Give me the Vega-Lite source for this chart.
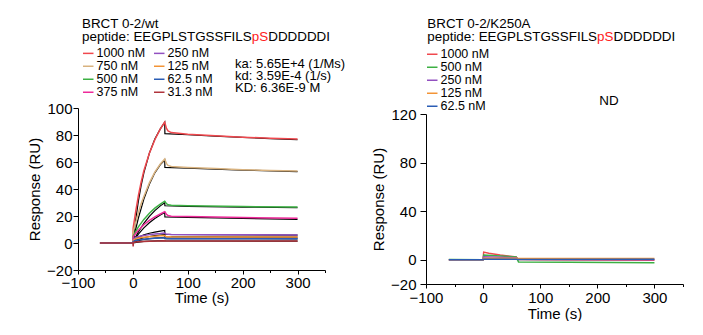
{
  "$schema": "https://vega.github.io/schema/vega-lite/v6.json",
  "padding": {"left": 27, "top": 16, "right": 0, "bottom": 0},
  "background": "white",
  "spacing": 25,
  "config": {
    "font": "Liberation Sans",
    "view": {"stroke": null},
    "axis": {"domainColor": "#000", "tickColor": "#000", "labelColor": "#000", "titleColor": "#000", "labelFontSize": 15, "titleFontSize": 15, "titleFontWeight": "normal", "grid": false, "labelFont": "Liberation Sans", "titleFont": "Liberation Sans", "domainWidth": 1, "tickWidth": 1, "labelOverlap": false},
    "legend": {"labelFontSize": 12.5, "labelColor": "#000", "labelFont": "Liberation Sans", "symbolType": "stroke", "symbolSize": 110, "symbolStrokeWidth": 1.5, "labelOffset": 2, "padding": 0, "columnPadding": 5},
    "text": {"font": "Liberation Sans", "fontSize": 13.4}
  },
  "resolve": {"scale": {"color": "independent"}, "legend": {"color": "independent"}},
  "hconcat": [
    {
      "width": 247,
      "height": 156,
      "data": {"values": [
        {"c":"1000 nM","k":"d","t":-60,"r":0},{"c":"1000 nM","k":"d","t":0,"r":0},{"c":"1000 nM","k":"d","t":0.5,"r":11},{"c":"1000 nM","k":"d","t":5,"r":23},{"c":"1000 nM","k":"d","t":10,"r":35},{"c":"1000 nM","k":"d","t":15,"r":45},{"c":"1000 nM","k":"d","t":20,"r":53.5},{"c":"1000 nM","k":"d","t":30,"r":66.5},{"c":"1000 nM","k":"d","t":40,"r":76.5},{"c":"1000 nM","k":"d","t":50,"r":84.5},{"c":"1000 nM","k":"d","t":58,"r":89.5},{"c":"1000 nM","k":"d","t":59,"r":88},{"c":"1000 nM","k":"d","t":61,"r":85},{"c":"1000 nM","k":"d","t":64,"r":83},{"c":"1000 nM","k":"d","t":70,"r":81.8},{"c":"1000 nM","k":"d","t":100,"r":80.6},{"c":"1000 nM","k":"d","t":150,"r":79.4},{"c":"1000 nM","k":"d","t":200,"r":78.4},{"c":"1000 nM","k":"d","t":250,"r":77.6},{"c":"1000 nM","k":"d","t":300,"r":77},
        {"c":"1000 nM","k":"f","t":0,"r":0},{"c":"1000 nM","k":"f","t":5,"r":17},{"c":"1000 nM","k":"f","t":10,"r":31},{"c":"1000 nM","k":"f","t":15,"r":42.5},{"c":"1000 nM","k":"f","t":20,"r":52},{"c":"1000 nM","k":"f","t":30,"r":66.5},{"c":"1000 nM","k":"f","t":40,"r":77},{"c":"1000 nM","k":"f","t":50,"r":84.5},{"c":"1000 nM","k":"f","t":58,"r":89.5},{"c":"1000 nM","k":"f","t":58.3,"r":81},{"c":"1000 nM","k":"f","t":100,"r":80.2},{"c":"1000 nM","k":"f","t":150,"r":79.2},{"c":"1000 nM","k":"f","t":200,"r":78.2},{"c":"1000 nM","k":"f","t":250,"r":77.3},{"c":"1000 nM","k":"f","t":300,"r":76.5},
        {"c":"750 nM","k":"d","t":-60,"r":0},{"c":"750 nM","k":"d","t":0,"r":0},{"c":"750 nM","k":"d","t":0.5,"r":8},{"c":"750 nM","k":"d","t":5,"r":15},{"c":"750 nM","k":"d","t":10,"r":22.5},{"c":"750 nM","k":"d","t":15,"r":29},{"c":"750 nM","k":"d","t":20,"r":34.5},{"c":"750 nM","k":"d","t":30,"r":44.5},{"c":"750 nM","k":"d","t":40,"r":52.5},{"c":"750 nM","k":"d","t":50,"r":58.5},{"c":"750 nM","k":"d","t":58,"r":62.2},{"c":"750 nM","k":"d","t":59,"r":61},{"c":"750 nM","k":"d","t":61,"r":59},{"c":"750 nM","k":"d","t":64,"r":57.5},{"c":"750 nM","k":"d","t":70,"r":56.7},{"c":"750 nM","k":"d","t":100,"r":56},{"c":"750 nM","k":"d","t":150,"r":55.1},{"c":"750 nM","k":"d","t":200,"r":54.3},{"c":"750 nM","k":"d","t":250,"r":53.7},{"c":"750 nM","k":"d","t":300,"r":53.3},
        {"c":"750 nM","k":"f","t":0,"r":0},{"c":"750 nM","k":"f","t":5,"r":10},{"c":"750 nM","k":"f","t":10,"r":18.5},{"c":"750 nM","k":"f","t":20,"r":32.5},{"c":"750 nM","k":"f","t":30,"r":43.5},{"c":"750 nM","k":"f","t":40,"r":52},{"c":"750 nM","k":"f","t":50,"r":58},{"c":"750 nM","k":"f","t":58,"r":61.5},{"c":"750 nM","k":"f","t":58.3,"r":56},{"c":"750 nM","k":"f","t":100,"r":55.4},{"c":"750 nM","k":"f","t":200,"r":54},{"c":"750 nM","k":"f","t":300,"r":52.8},
        {"c":"500 nM","k":"d","t":-60,"r":0},{"c":"500 nM","k":"d","t":0,"r":0},{"c":"500 nM","k":"d","t":0.5,"r":5},{"c":"500 nM","k":"d","t":5,"r":8.5},{"c":"500 nM","k":"d","t":10,"r":12},{"c":"500 nM","k":"d","t":20,"r":17.5},{"c":"500 nM","k":"d","t":30,"r":22},{"c":"500 nM","k":"d","t":40,"r":25.8},{"c":"500 nM","k":"d","t":50,"r":28.8},{"c":"500 nM","k":"d","t":58,"r":31},{"c":"500 nM","k":"d","t":59,"r":30.5},{"c":"500 nM","k":"d","t":61,"r":29.2},{"c":"500 nM","k":"d","t":64,"r":28.3},{"c":"500 nM","k":"d","t":70,"r":27.9},{"c":"500 nM","k":"d","t":100,"r":27.6},{"c":"500 nM","k":"d","t":200,"r":27},{"c":"500 nM","k":"d","t":300,"r":26.7},
        {"c":"500 nM","k":"f","t":0,"r":0},{"c":"500 nM","k":"f","t":5,"r":4.5},{"c":"500 nM","k":"f","t":10,"r":8.2},{"c":"500 nM","k":"f","t":20,"r":14.5},{"c":"500 nM","k":"f","t":30,"r":19.7},{"c":"500 nM","k":"f","t":40,"r":24},{"c":"500 nM","k":"f","t":50,"r":27.5},{"c":"500 nM","k":"f","t":58,"r":29.8},{"c":"500 nM","k":"f","t":58.3,"r":27.6},{"c":"500 nM","k":"f","t":100,"r":27.2},{"c":"500 nM","k":"f","t":200,"r":26.6},{"c":"500 nM","k":"f","t":300,"r":26.1},
        {"c":"375 nM","k":"d","t":-60,"r":0},{"c":"375 nM","k":"d","t":0,"r":0},{"c":"375 nM","k":"d","t":0.5,"r":4.5},{"c":"375 nM","k":"d","t":5,"r":7},{"c":"375 nM","k":"d","t":10,"r":9.5},{"c":"375 nM","k":"d","t":20,"r":13.5},{"c":"375 nM","k":"d","t":30,"r":16.8},{"c":"375 nM","k":"d","t":40,"r":19.4},{"c":"375 nM","k":"d","t":50,"r":21.5},{"c":"375 nM","k":"d","t":58,"r":23.2},{"c":"375 nM","k":"d","t":59,"r":22.7},{"c":"375 nM","k":"d","t":61,"r":21.3},{"c":"375 nM","k":"d","t":64,"r":20.4},{"c":"375 nM","k":"d","t":70,"r":19.9},{"c":"375 nM","k":"d","t":100,"r":19.6},{"c":"375 nM","k":"d","t":200,"r":18.9},{"c":"375 nM","k":"d","t":300,"r":18.3},
        {"c":"375 nM","k":"f","t":0,"r":0},{"c":"375 nM","k":"f","t":5,"r":3.5},{"c":"375 nM","k":"f","t":10,"r":6.5},{"c":"375 nM","k":"f","t":20,"r":11.2},{"c":"375 nM","k":"f","t":30,"r":15},{"c":"375 nM","k":"f","t":40,"r":18.2},{"c":"375 nM","k":"f","t":50,"r":20.8},{"c":"375 nM","k":"f","t":58,"r":22.6},{"c":"375 nM","k":"f","t":58.3,"r":19.3},{"c":"375 nM","k":"f","t":100,"r":19},{"c":"375 nM","k":"f","t":200,"r":18.2},{"c":"375 nM","k":"f","t":300,"r":17.5},
        {"c":"250 nM","k":"d","t":-60,"r":0},{"c":"250 nM","k":"d","t":0,"r":0},{"c":"250 nM","k":"d","t":0.5,"r":2.5},{"c":"250 nM","k":"d","t":5,"r":4},{"c":"250 nM","k":"d","t":10,"r":4.8},{"c":"250 nM","k":"d","t":20,"r":5.6},{"c":"250 nM","k":"d","t":30,"r":6.2},{"c":"250 nM","k":"d","t":40,"r":6.7},{"c":"250 nM","k":"d","t":50,"r":7},{"c":"250 nM","k":"d","t":58,"r":7.4},{"c":"250 nM","k":"d","t":60,"r":6.6},{"c":"250 nM","k":"d","t":70,"r":6.3},{"c":"250 nM","k":"d","t":150,"r":6.1},{"c":"250 nM","k":"d","t":300,"r":6},
        {"c":"250 nM","k":"f","t":0,"r":0},{"c":"250 nM","k":"f","t":5,"r":2.6},{"c":"250 nM","k":"f","t":10,"r":4.2},{"c":"250 nM","k":"f","t":20,"r":6},{"c":"250 nM","k":"f","t":30,"r":7.2},{"c":"250 nM","k":"f","t":40,"r":8.1},{"c":"250 nM","k":"f","t":50,"r":8.8},{"c":"250 nM","k":"f","t":58,"r":9.3},{"c":"250 nM","k":"f","t":58.3,"r":6.4},{"c":"250 nM","k":"f","t":150,"r":6.1},{"c":"250 nM","k":"f","t":300,"r":5.8},
        {"c":"125 nM","k":"d","t":-60,"r":0},{"c":"125 nM","k":"d","t":0,"r":0},{"c":"125 nM","k":"d","t":0.5,"r":2},{"c":"125 nM","k":"d","t":5,"r":3},{"c":"125 nM","k":"d","t":10,"r":3.7},{"c":"125 nM","k":"d","t":20,"r":4.3},{"c":"125 nM","k":"d","t":30,"r":4.7},{"c":"125 nM","k":"d","t":40,"r":5},{"c":"125 nM","k":"d","t":50,"r":5.3},{"c":"125 nM","k":"d","t":58,"r":5.6},{"c":"125 nM","k":"d","t":60,"r":4.8},{"c":"125 nM","k":"d","t":70,"r":4.6},{"c":"125 nM","k":"d","t":150,"r":4.5},{"c":"125 nM","k":"d","t":300,"r":4.4},
        {"c":"125 nM","k":"f","t":0,"r":0},{"c":"125 nM","k":"f","t":5,"r":1.6},{"c":"125 nM","k":"f","t":10,"r":2.7},{"c":"125 nM","k":"f","t":20,"r":3.9},{"c":"125 nM","k":"f","t":30,"r":4.8},{"c":"125 nM","k":"f","t":40,"r":5.4},{"c":"125 nM","k":"f","t":50,"r":5.9},{"c":"125 nM","k":"f","t":58,"r":6.2},{"c":"125 nM","k":"f","t":58.3,"r":4.6},{"c":"125 nM","k":"f","t":150,"r":4.5},{"c":"125 nM","k":"f","t":300,"r":4.3},
        {"c":"62.5 nM","k":"d","t":-60,"r":0},{"c":"62.5 nM","k":"d","t":0,"r":0},{"c":"62.5 nM","k":"d","t":0.5,"r":1},{"c":"62.5 nM","k":"d","t":5,"r":1.8},{"c":"62.5 nM","k":"d","t":10,"r":2.3},{"c":"62.5 nM","k":"d","t":20,"r":2.8},{"c":"62.5 nM","k":"d","t":30,"r":3.2},{"c":"62.5 nM","k":"d","t":40,"r":3.5},{"c":"62.5 nM","k":"d","t":50,"r":3.7},{"c":"62.5 nM","k":"d","t":58,"r":3.9},{"c":"62.5 nM","k":"d","t":60,"r":3.4},{"c":"62.5 nM","k":"d","t":70,"r":3.2},{"c":"62.5 nM","k":"d","t":300,"r":3.1},
        {"c":"62.5 nM","k":"f","t":0,"r":0},{"c":"62.5 nM","k":"f","t":10,"r":1.7},{"c":"62.5 nM","k":"f","t":20,"r":2.6},{"c":"62.5 nM","k":"f","t":30,"r":3.2},{"c":"62.5 nM","k":"f","t":40,"r":3.6},{"c":"62.5 nM","k":"f","t":50,"r":3.9},{"c":"62.5 nM","k":"f","t":58,"r":4.1},{"c":"62.5 nM","k":"f","t":58.3,"r":3.3},{"c":"62.5 nM","k":"f","t":300,"r":3.1},
        {"c":"31.3 nM","k":"d","t":-60,"r":0},{"c":"31.3 nM","k":"d","t":0,"r":0},{"c":"31.3 nM","k":"d","t":0.5,"r":-2.5},{"c":"31.3 nM","k":"d","t":1,"r":0.5},{"c":"31.3 nM","k":"d","t":10,"r":1},{"c":"31.3 nM","k":"d","t":30,"r":1.3},{"c":"31.3 nM","k":"d","t":58,"r":1.6},{"c":"31.3 nM","k":"d","t":60,"r":1.5},{"c":"31.3 nM","k":"d","t":300,"r":1.4},
        {"c":"31.3 nM","k":"f","t":0,"r":0},{"c":"31.3 nM","k":"f","t":20,"r":1.2},{"c":"31.3 nM","k":"f","t":58,"r":1.8},{"c":"31.3 nM","k":"f","t":58.3,"r":1.5},{"c":"31.3 nM","k":"f","t":300,"r":1.4}
      ]},
      "layer": [
        {"transform": [{"filter": "datum.k === 'f'"}], "mark": {"type": "line", "color": "black", "strokeWidth": 1.2},
         "encoding": {
           "x": {"field": "t", "type": "quantitative", "scale": {"domain": [-100, 350], "nice": false, "zero": false},
             "axis": {"title": "Time (s)", "values": [-100, -50, 0, 50, 100, 150, 200, 250, 300, 350], "labelExpr": "datum.value % 100 === 0 ? datum.label : ''", "tickSize": {"condition": {"test": "datum.value % 100 === 0", "value": 4}, "value": 2.5}, "labelPadding": 1, "titlePadding": 0, "labelFlush": false, "labelOverlap": false}},
           "y": {"field": "r", "type": "quantitative", "scale": {"domain": [-20, 100], "range": [156, -6], "nice": false, "zero": false},
             "axis": {"title": "Response (RU)", "values": [-20, 0, 20, 40, 60, 80, 100], "tickSize": 5, "labelPadding": 1, "titlePadding": 4, "labelFlush": false, "labelOverlap": false, "labelBound": false}},
           "detail": {"field": "c"}}},
        {"transform": [{"filter": "datum.k === 'd'"}], "mark": {"type": "line", "strokeWidth": 1.5},
         "encoding": {
           "x": {"field": "t", "type": "quantitative",
             "axis": {"title": "Time (s)", "values": [-100, -50, 0, 50, 100, 150, 200, 250, 300, 350], "labelExpr": "datum.value % 100 === 0 ? datum.label : ''", "tickSize": {"condition": {"test": "datum.value % 100 === 0", "value": 4}, "value": 2.5}, "labelPadding": 1, "titlePadding": 0, "labelFlush": false, "labelOverlap": false}},
           "y": {"field": "r", "type": "quantitative",
             "axis": {"title": "Response (RU)", "values": [-20, 0, 20, 40, 60, 80, 100], "tickSize": 5, "labelPadding": 1, "titlePadding": 4, "labelFlush": false, "labelOverlap": false, "labelBound": false}},
           "color": {"field": "c", "type": "nominal",
             "scale": {"domain": ["1000 nM", "750 nM", "500 nM", "375 nM", "250 nM", "125 nM", "62.5 nM", "31.3 nM"],
                       "range": ["#F0484E", "#D8B27F", "#3CB043", "#EE2A9A", "#9250C0", "#F39436", "#2A5DB5", "#B0343C"]},
             "legend": {"title": null, "orient": "none", "legendX": 4, "legendY": -67, "columns": 2, "rowPadding": -0.7, "symbolType": "stroke"}}}},
        {"data": {"values": [{"txt": "BRCT 0-2/wt\npeptide: EEGPLSTGSSFILS", "p": "pS", "d": "DDDDDDI", "k": "ka: 5.65E+4 (1/Ms)\nkd: 3.59E-4 (1/s)\nKD: 6.36E-9 M"}]},
         "encoding": {
           "x": {"datum": -92.7, "type": "quantitative",
             "axis": {"title": "Time (s)", "values": [-100, -50, 0, 50, 100, 150, 200, 250, 300, 350], "labelExpr": "datum.value % 100 === 0 ? datum.label : ''", "tickSize": {"condition": {"test": "datum.value % 100 === 0", "value": 4}, "value": 2.5}, "labelPadding": 1, "titlePadding": 0, "labelFlush": false, "labelOverlap": false}},
           "y": {"datum": 159.3, "type": "quantitative",
             "axis": {"title": "Response (RU)", "values": [-20, 0, 20, 40, 60, 80, 100], "tickSize": 5, "labelPadding": 1, "titlePadding": 4, "labelFlush": false, "labelOverlap": false, "labelBound": false}}},
         "layer": [
           {"mark": {"type": "text", "align": "left", "baseline": "alphabetic", "color": "black", "lineBreak": "\n", "lineHeight": 13.4},
            "encoding": {"text": {"field": "txt"}}},
           {"mark": {"type": "text", "align": "left", "baseline": "alphabetic", "color": "#FF2020"},
            "encoding": {"x": {"datum": 216.7, "type": "quantitative"}, "y": {"datum": 149.4, "type": "quantitative"}, "text": {"field": "p"}}},
           {"mark": {"type": "text", "align": "left", "baseline": "alphabetic", "color": "black"},
            "encoding": {"x": {"datum": 246.6, "type": "quantitative"}, "y": {"datum": 149.4, "type": "quantitative"}, "text": {"field": "d"}}},
           {"mark": {"type": "text", "align": "left", "baseline": "alphabetic", "color": "black", "fontSize": 13, "lineBreak": "\n", "lineHeight": 12},
            "encoding": {"x": {"datum": 186, "type": "quantitative"}, "y": {"datum": 129.4, "type": "quantitative"}, "text": {"field": "k"}}}
         ]}
      ]
    },
    {
      "width": 257,
      "height": 170,
      "data": {"values": [
        {"c":"1000 nM","t":-60,"r":0},{"c":"1000 nM","t":0,"r":0},{"c":"1000 nM","t":1,"r":6.3},{"c":"1000 nM","t":10,"r":5.3},{"c":"1000 nM","t":30,"r":3.8},{"c":"1000 nM","t":58,"r":2.2},{"c":"1000 nM","t":61,"r":0.2},{"c":"1000 nM","t":100,"r":0},{"c":"1000 nM","t":300,"r":-0.4},
        {"c":"500 nM","t":-60,"r":0.2},{"c":"500 nM","t":0,"r":0},{"c":"500 nM","t":1,"r":3.8},{"c":"500 nM","t":30,"r":3},{"c":"500 nM","t":58,"r":2.3},{"c":"500 nM","t":62,"r":-1.8},{"c":"500 nM","t":150,"r":-2},{"c":"500 nM","t":300,"r":-2.6},
        {"c":"250 nM","t":-60,"r":0},{"c":"250 nM","t":0,"r":0},{"c":"250 nM","t":1,"r":2.5},{"c":"250 nM","t":58,"r":1.6},{"c":"250 nM","t":62,"r":0.3},{"c":"250 nM","t":300,"r":0},
        {"c":"125 nM","t":-60,"r":0},{"c":"125 nM","t":0,"r":0},{"c":"125 nM","t":1,"r":1.2},{"c":"125 nM","t":58,"r":1.2},{"c":"125 nM","t":62,"r":1},{"c":"125 nM","t":300,"r":1},
        {"c":"62.5 nM","t":-60,"r":0},{"c":"62.5 nM","t":0,"r":0},{"c":"62.5 nM","t":1,"r":0.3},{"c":"62.5 nM","t":58,"r":0.3},{"c":"62.5 nM","t":62,"r":0.1},{"c":"62.5 nM","t":300,"r":0.3}
      ]},
      "layer": [
        {"mark": {"type": "line", "strokeWidth": 1.5},
         "encoding": {
           "x": {"field": "t", "type": "quantitative", "scale": {"domain": [-100, 350], "nice": false, "zero": false},
             "axis": {"title": "Time (s)", "values": [-100, -50, 0, 50, 100, 150, 200, 250, 300, 350], "labelExpr": "datum.value % 100 === 0 ? datum.label : ''", "tickSize": {"condition": {"test": "datum.value % 100 === 0", "value": 4}, "value": 2.5}, "labelPadding": 2, "titlePadding": 1, "labelFlush": false, "labelOverlap": false}},
           "y": {"field": "r", "type": "quantitative", "scale": {"domain": [-20, 120], "nice": false, "zero": false},
             "axis": {"title": "Response (RU)", "values": [-20, 0, 40, 80, 120], "tickSize": 6, "labelPadding": 4, "titlePadding": 4, "labelFlush": false, "labelOverlap": false, "labelBound": false}},
           "color": {"field": "c", "type": "nominal",
             "scale": {"domain": ["1000 nM", "500 nM", "250 nM", "125 nM", "62.5 nM"],
                       "range": ["#F0484E", "#3CB043", "#9250C0", "#F39436", "#2A5DB5"]},
             "legend": {"title": null, "orient": "none", "legendX": 0, "legendY": -66, "rowPadding": 0, "symbolType": "stroke"}}}},
        {"data": {"values": [{"txt": "BRCT 0-2/K250A\npeptide: EEGPLSTGSSFILS", "p": "pS", "d": "DDDDDDI", "n": "ND"}]},
         "encoding": {
           "x": {"datum": -97.7, "type": "quantitative",
             "axis": {"title": "Time (s)", "values": [-100, -50, 0, 50, 100, 150, 200, 250, 300, 350], "labelExpr": "datum.value % 100 === 0 ? datum.label : ''", "tickSize": {"condition": {"test": "datum.value % 100 === 0", "value": 4}, "value": 2.5}, "labelPadding": 2, "titlePadding": 1, "labelFlush": false, "labelOverlap": false}},
           "y": {"datum": 190.8, "type": "quantitative",
             "axis": {"title": "Response (RU)", "values": [-20, 0, 40, 80, 120], "tickSize": 6, "labelPadding": 4, "titlePadding": 4, "labelFlush": false, "labelOverlap": false, "labelBound": false}}},
         "layer": [
           {"mark": {"type": "text", "align": "left", "baseline": "alphabetic", "color": "black", "lineBreak": "\n", "lineHeight": 13.4},
            "encoding": {"text": {"field": "txt"}}},
           {"mark": {"type": "text", "align": "left", "baseline": "alphabetic", "color": "#FF2020"},
            "encoding": {"x": {"datum": 199.6, "type": "quantitative"}, "y": {"datum": 179.8, "type": "quantitative"}, "text": {"field": "p"}}},
           {"mark": {"type": "text", "align": "left", "baseline": "alphabetic", "color": "black"},
            "encoding": {"x": {"datum": 228.3, "type": "quantitative"}, "y": {"datum": 179.8, "type": "quantitative"}, "text": {"field": "d"}}},
           {"mark": {"type": "text", "align": "center", "baseline": "alphabetic", "color": "black"},
            "encoding": {"x": {"datum": 220.4, "type": "quantitative"}, "y": {"datum": 127.7, "type": "quantitative"}, "text": {"field": "n"}}}
         ]}
      ]
    }
  ]
}
